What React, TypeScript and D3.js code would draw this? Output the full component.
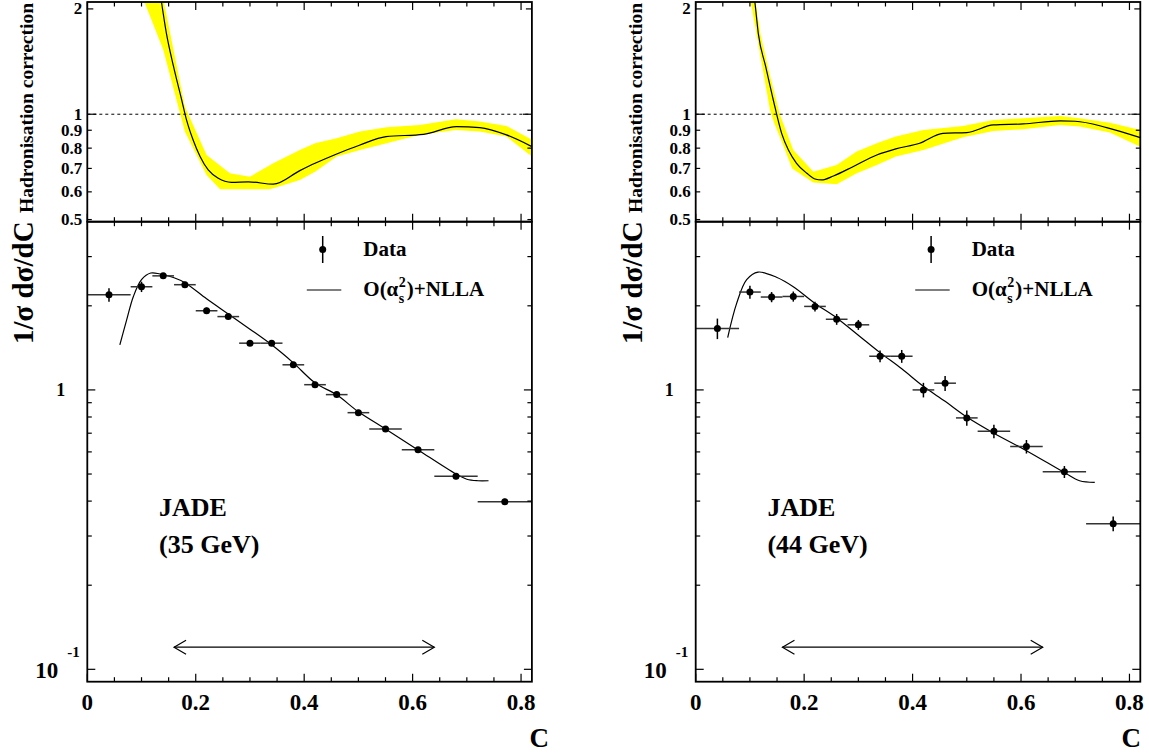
import React, { useEffect, useRef } from 'react';
import * as d3 from 'd3';

// ---------- data ----------
const binLow = [0, 0.08, 0.12, 0.16, 0.2, 0.24, 0.28, 0.32, 0.36, 0.4, 0.44, 0.48, 0.52, 0.58, 0.64, 0.72];
const binHigh = [0.08, 0.12, 0.16, 0.2, 0.24, 0.28, 0.32, 0.36, 0.4, 0.44, 0.48, 0.52, 0.58, 0.64, 0.72, 0.82];
const binCenter = [0.04, 0.1, 0.14, 0.18, 0.22, 0.26, 0.3, 0.34, 0.38, 0.42, 0.46, 0.5, 0.55, 0.61, 0.68, 0.77];

const data35 = [2.19, 2.34, 2.56, 2.38, 1.92, 1.83, 1.47, 1.47, 1.23, 1.044, 0.962, 0.829, 0.725, 0.611, 0.491, 0.398];
const err35 = [0.12, 0.1, 0.06, 0.06, 0.05, 0.04, 0.035, 0.035, 0.03, 0.025, 0.022, 0.02, 0.017, 0.014, 0.012, 0.01];
const data44 = [1.66, 2.24, 2.15, 2.16, 1.99, 1.79, 1.71, 1.32, 1.32, 1.0, 1.057, 0.794, 0.711, 0.627, 0.509, 0.332];
const err44 = [0.14, 0.12, 0.09, 0.09, 0.08, 0.08, 0.07, 0.065, 0.07, 0.06, 0.065, 0.05, 0.04, 0.035, 0.025, 0.02];

const theoryC35 = [0.06, 0.0726, 0.085, 0.1, 0.117, 0.134, 0.16, 0.18, 0.22, 0.26, 0.3, 0.34, 0.38, 0.42, 0.46, 0.5, 0.55, 0.61, 0.68, 0.7, 0.72, 0.74];
const theoryV35 = [1.45, 1.78, 2.16, 2.48, 2.62, 2.6, 2.52, 2.42, 2.12, 1.87, 1.65, 1.45, 1.25, 1.06, 0.96, 0.835, 0.725, 0.61, 0.5, 0.479, 0.473, 0.473];
const theoryC44 = [0.059, 0.0755, 0.094, 0.115, 0.149, 0.18, 0.22, 0.26, 0.3, 0.34, 0.38, 0.42, 0.46, 0.5, 0.55, 0.61, 0.68, 0.708, 0.736];
const theoryV44 = [1.54, 2.04, 2.48, 2.64, 2.53, 2.34, 2.04, 1.81, 1.57, 1.36, 1.19, 1.03, 0.91, 0.8, 0.7, 0.606, 0.506, 0.473, 0.467];

const hadC35 = [0.133, 0.146, 0.159, 0.174, 0.183, 0.195, 0.208, 0.223, 0.2415, 0.266, 0.297, 0.343, 0.392, 0.42, 0.46, 0.503, 0.551, 0.62, 0.681, 0.724, 0.773, 0.82];
const hadV35 = [2.3, 1.7, 1.37, 1.1, 0.963, 0.845, 0.757, 0.693, 0.656, 0.639, 0.641, 0.631, 0.69, 0.724, 0.77, 0.817, 0.863, 0.876, 0.922, 0.916, 0.873, 0.808];
const bandUpC35 = [0.136, 0.18, 0.22, 0.263, 0.3, 0.343, 0.392, 0.42, 0.46, 0.503, 0.552, 0.613, 0.68, 0.724, 0.773, 0.82];
const bandUpV35 = [2.3, 1.05, 0.765, 0.678, 0.663, 0.724, 0.79, 0.826, 0.854, 0.892, 0.918, 0.932, 0.968, 0.953, 0.926, 0.845];
const bandLoC35 = [0.095, 0.14, 0.18, 0.22, 0.245, 0.337, 0.392, 0.42, 0.46, 0.503, 0.552, 0.613, 0.68, 0.724, 0.773, 0.82];
const bandLoV35 = [2.3, 1.53, 0.892, 0.67, 0.61, 0.61, 0.649, 0.685, 0.757, 0.79, 0.826, 0.873, 0.902, 0.892, 0.863, 0.757];

const hadC44 = [0.104, 0.109, 0.1155, 0.129, 0.143, 0.1585, 0.171, 0.186, 0.205, 0.22, 0.232, 0.254, 0.29, 0.334, 0.369, 0.413, 0.456, 0.5, 0.549, 0.604, 0.672, 0.7, 0.758, 0.82];
const hadV44 = [2.4, 2.1, 1.7, 1.37, 1.1, 0.882, 0.79, 0.724, 0.678, 0.653, 0.649, 0.666, 0.708, 0.765, 0.796, 0.826, 0.882, 0.886, 0.932, 0.938, 0.957, 0.955, 0.916, 0.857];
const bandUpC44 = [0.106, 0.12, 0.135, 0.155, 0.18, 0.217, 0.26, 0.297, 0.334, 0.369, 0.42, 0.493, 0.549, 0.604, 0.672, 0.708, 0.764, 0.82];
const bandUpV44 = [2.3, 1.68, 1.33, 1.0, 0.79, 0.685, 0.716, 0.782, 0.826, 0.863, 0.902, 0.926, 0.963, 0.974, 0.989, 0.974, 0.946, 0.902];
const bandLoC44 = [0.097, 0.137, 0.145, 0.16, 0.178, 0.217, 0.26, 0.297, 0.334, 0.369, 0.42, 0.493, 0.549, 0.604, 0.672, 0.708, 0.764, 0.82];
const bandLoV44 = [2.3, 1.03, 0.942, 0.826, 0.7, 0.638, 0.631, 0.678, 0.716, 0.757, 0.79, 0.86, 0.896, 0.906, 0.932, 0.922, 0.886, 0.808];

const fitRange = [0.16, 0.64];
const xTickLabels = ['0', '0.2', '0.4', '0.6', '0.8'];
const upperTickValues = [2, 1, 0.9, 0.8, 0.7, 0.6, 0.5];
const upperTickLabels = ['2', '1', '0.9', '0.8', '0.7', '0.6', '0.5'];
const lowerMinorTicks = [3, 2, 0.9, 0.8, 0.7, 0.6, 0.5, 0.4, 0.3, 0.2];
const lowerMajorTicks = [1, 0.1];

const energies = ['(35 GeV)', '(44 GeV)'];

// ---------- layout ----------
const W = 1149;
const H = 754;
const Y_TOP = 2;
const Y_MID = 221.7;
const Y_BOT = 681.7;
const PW = 444.6;
const FONT = "'Liberation Serif', 'Times New Roman', Times, serif";

const panels = [
  { x0: 87.3, energy: energies[0], data: data35, err: err35, thC: theoryC35, thV: theoryV35,
    hC: hadC35, hV: hadV35, buC: bandUpC35, buV: bandUpV35, blC: bandLoC35, blV: bandLoV35, cEnd: 549, id: 'a' },
  { x0: 695.7, energy: energies[1], data: data44, err: err44, thC: theoryC44, thV: theoryV44,
    hC: hadC44, hV: hadV44, buC: bandUpC44, buV: bandUpV44, blC: bandLoC44, blV: bandLoV44, cEnd: 1141, id: 'b' },
];

export default function App() {
  const ref = useRef<SVGSVGElement | null>(null);

  useEffect(() => {
    const svg = d3.select(ref.current);
    svg.selectAll('*').remove();
    const defs = svg.append('defs');

    panels.forEach((p) => {
      const x = d3.scaleLinear().domain([0, 0.82]).range([p.x0, p.x0 + PW]);
      const yu = d3.scaleLog().domain([0.493, 2.093]).range([Y_MID, Y_TOP]);
      const yl = d3.scaleLog().domain([0.0903, 4.0]).range([Y_BOT, Y_MID]);
      const x1 = p.x0 + PW;
      const g = svg.append('g');

      defs.append('clipPath').attr('id', 'clipU' + p.id)
        .append('rect').attr('x', p.x0).attr('y', Y_TOP).attr('width', PW).attr('height', Y_MID - Y_TOP);

      const gu = g.append('g').attr('clip-path', `url(#clipU${p.id})`);

      // uncertainty band
      const up = p.buC.map((c, i) => [x(c), yu(p.buV[i])] as [number, number]);
      const lo = p.blC.map((c, i) => [x(c), yu(p.blV[i])] as [number, number]);
      const poly = up.concat(lo.reverse());
      gu.append('path')
        .attr('d', d3.line().curve(d3.curveLinearClosed)(poly) as string)
        .attr('fill', '#ffff00').attr('stroke', 'none');

      // hadronisation correction line
      const hPts = p.hC.map((c, i) => [x(c), yu(p.hV[i])] as [number, number]);
      gu.append('path')
        .attr('d', d3.line().curve(d3.curveMonotoneX)(hPts) as string)
        .attr('fill', 'none').attr('stroke', '#000').attr('stroke-width', 1.2);

      // dashed line at 1
      g.append('line').attr('x1', p.x0).attr('x2', x1).attr('y1', yu(1)).attr('y2', yu(1))
        .attr('stroke', '#000').attr('stroke-width', 1).attr('stroke-dasharray', '3,3');

      // theory line
      const tPts = p.thC.map((c, i) => [x(c), yl(p.thV[i])] as [number, number]);
      g.append('path')
        .attr('d', d3.line().curve(d3.curveCatmullRom.alpha(0.5))(tPts) as string)
        .attr('fill', 'none').attr('stroke', '#000').attr('stroke-width', 1.2);

      // data points
      binCenter.forEach((c, i) => {
        const v = p.data[i];
        const e = p.err[i];
        g.append('line').attr('x1', x(binLow[i])).attr('x2', x(binHigh[i]))
          .attr('y1', yl(v)).attr('y2', yl(v)).attr('stroke', '#333').attr('stroke-width', 1.5);
        g.append('line').attr('x1', x(c)).attr('x2', x(c))
          .attr('y1', yl(v + e)).attr('y2', yl(v - e)).attr('stroke', '#000').attr('stroke-width', 1.5);
        g.append('circle').attr('cx', x(c)).attr('cy', yl(v)).attr('r', 3.5).attr('fill', '#000');
      });

      // arrow (fit range)
      const ya = yl(0.12);
      const xa = x(fitRange[0]);
      const xb = x(fitRange[1]);
      g.append('line').attr('x1', xa).attr('x2', xb).attr('y1', ya).attr('y2', ya)
        .attr('stroke', '#000').attr('stroke-width', 1.2);
      g.append('path').attr('d', `M${xa + 12},${ya - 7}L${xa},${ya}L${xa + 12},${ya + 7}`)
        .attr('fill', 'none').attr('stroke', '#000').attr('stroke-width', 1.2);
      g.append('path').attr('d', `M${xb - 12},${ya - 7}L${xb},${ya}L${xb - 12},${ya + 7}`)
        .attr('fill', 'none').attr('stroke', '#000').attr('stroke-width', 1.2);

      // frames
      const frame = (y0: number, y1: number) =>
        g.append('rect').attr('x', p.x0).attr('y', y0).attr('width', PW).attr('height', y1 - y0)
          .attr('fill', 'none').attr('stroke', '#000').attr('stroke-width', 1.8);
      frame(Y_TOP, Y_MID);
      frame(Y_MID, Y_BOT);

      const tick = (xx1: number, yy1: number, xx2: number, yy2: number) =>
        g.append('line').attr('x1', xx1).attr('y1', yy1).attr('x2', xx2).attr('y2', yy2)
          .attr('stroke', '#000').attr('stroke-width', 1.2);

      // x ticks
      for (let k = 0; k <= 16; k++) {
        const xx = x(k * 0.05);
        const len = k % 4 === 0 ? 8 : 4.5;
        tick(xx, Y_TOP, xx, Y_TOP + len);
        tick(xx, Y_MID, xx, Y_MID - len);
        tick(xx, Y_MID, xx, Y_MID + len);
        tick(xx, Y_BOT, xx, Y_BOT - len);
      }

      // upper y ticks
      upperTickValues.forEach((v) => {
        const len = v === 1 ? 9 : v === 2 ? 6 : 4.5;
        tick(p.x0, yu(v), p.x0 + len, yu(v));
        tick(x1, yu(v), x1 - len, yu(v));
      });
      // lower y ticks
      lowerMinorTicks.forEach((v) => {
        tick(p.x0, yl(v), p.x0 + 4.5, yl(v));
        tick(x1, yl(v), x1 - 4.5, yl(v));
      });
      lowerMajorTicks.forEach((v) => {
        tick(p.x0, yl(v), p.x0 + 8, yl(v));
        tick(x1, yl(v), x1 - 8, yl(v));
      });

      const text = (s: string, xx: number, yy: number, size: number, anchor = 'start') =>
        g.append('text').attr('x', xx).attr('y', yy).attr('font-family', FONT).attr('font-weight', 'bold')
          .attr('font-size', size).attr('text-anchor', anchor).attr('fill', '#000').text(s);

      // upper tick labels
      upperTickValues.forEach((v, i) => {
        text(upperTickLabels[i], p.x0 - 5, yu(v) + 5.5, 17, 'end');
      });
      // lower tick labels
      text('1', p.x0 - 22, yl(1) + 6.5, 18, 'end');
      text('10', p.x0 - 29, 678, 23, 'end');
      text('-1', p.x0 - 20, 656.5, 15, 'start');

      // x tick labels
      xTickLabels.forEach((s, i) => {
        text(s, x(i * 0.2), 710, 23, 'middle');
      });
      text('C', p.cEnd, 747, 27, 'end');

      // y titles
      g.append('text').attr('transform', `translate(${p.x0 - 54},213) rotate(-90)`)
        .attr('font-family', FONT).attr('font-weight', 'bold').attr('font-size', 19.5)
        .attr('text-anchor', 'start').text('Hadronisation correction');
      g.append('text').attr('transform', `translate(${p.x0 - 54},344) rotate(-90)`)
        .attr('font-family', FONT).attr('font-weight', 'bold').attr('font-size', 29)
        .attr('text-anchor', 'start').text('1/σ dσ/dC');

      // JADE label
      text('JADE', p.x0 + 71.7, 516, 26);
      text(p.energy, p.x0 + 71.7, 552.7, 26);

      // legend
      const lx = p.x0 + 235.4;
      g.append('line').attr('x1', lx).attr('x2', lx).attr('y1', 236).attr('y2', 263)
        .attr('stroke', '#000').attr('stroke-width', 1.5);
      g.append('circle').attr('cx', lx).attr('cy', 249.5).attr('r', 3.5).attr('fill', '#000');
      text('Data', p.x0 + 276, 256, 21);
      g.append('line').attr('x1', p.x0 + 219.5).attr('x2', p.x0 + 254).attr('y1', 290).attr('y2', 290)
        .attr('stroke', '#000').attr('stroke-width', 1.2);
      const t1 = text('O(α', p.x0 + 276, 296, 21);
      const w1 = (t1.node() as SVGTextElement).getComputedTextLength();
      const sx = p.x0 + 276 + w1 + 0.5;
      text('2', sx, 286.5, 14);
      text('s', sx, 302.5, 14);
      text(')+NLLA', sx + 8, 296, 21);
    });
  }, []);

  return (
    <svg ref={ref} width={W} height={H} viewBox={`0 0 ${W} ${H}`}
      style={{ position: 'absolute', left: 0, top: 0, background: '#fff' }} />
  );
}
